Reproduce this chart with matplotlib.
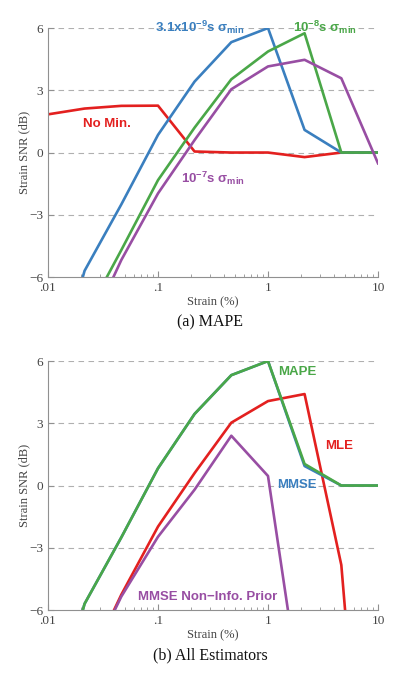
import numpy as np
import matplotlib.pyplot as plt
from matplotlib.ticker import FixedLocator, LogLocator, NullFormatter

strain = [0.01, 0.0215, 0.0464, 0.1, 0.215, 0.464, 1, 2.15, 4.64, 10]

# (a) MAPE
snrNoMin = [1.84, 2.12, 2.25, 2.26, 0.05, 0.0, 0.0, -0.22, 0.0, 0.0]
snr31e9 = [-12, -5.7, -2.5, 0.85, 3.42, 5.32, 6.0, 1.09, 0.0, 0.0]
snr1e8 = [-12, -8.0, -4.7, -1.33, 1.2, 3.53, 4.87, 5.75, 0.0, 0.0]
snr1e7 = [-12, -9.0, -5.18, -1.97, 0.6, 3.05, 4.15, 4.47, 3.58, -0.52]

# (b) All Estimators
snrMAPE = [-12, -5.7, -2.5, 0.83, 3.45, 5.32, 6.0, 1.04, 0.0, 0.0]
snrMMSE = [-12, -5.7, -2.5, 0.83, 3.45, 5.32, 6.0, 0.94, 0.0, 0.0]
snrMLE = [-12, -9.0, -5.26, -1.98, 0.6, 3.03, 4.07, 4.41, -3.83, -25]
snrNonInfo = [-12, -9.0, -5.35, -2.47, -0.2, 2.4, 0.46, -11.4, -20, -25]

red = "#e3201f"
green = "#4aa748"
blue = "#3a7fbf"
purple = "#984ea3"

plt.rcParams["font.family"] = ["Liberation Serif", "DejaVu Serif"]
plt.rcParams["mathtext.fontset"] = "custom"
plt.rcParams["mathtext.rm"] = "Liberation Sans:bold"
plt.rcParams["mathtext.it"] = "Liberation Sans:bold"
plt.rcParams["mathtext.bf"] = "Liberation Sans:bold"

fig = plt.figure(figsize=(4, 6.76), dpi=100)
axA = fig.add_axes([0.12, 0.5902, 0.825, 0.3683])
axB = fig.add_axes([0.12, 0.0976, 0.825, 0.3683])


def style(ax):
    ax.set_xscale("log")
    ax.set_xlim(0.01, 10)
    ax.set_ylim(-6, 6)
    ax.xaxis.set_major_locator(FixedLocator([0.01, 0.1, 1, 10]))
    ax.set_xticklabels([".01", ".1", "1", "10"])
    ax.xaxis.set_minor_locator(LogLocator(base=10, subs=np.arange(2, 10)))
    ax.xaxis.set_minor_formatter(NullFormatter())
    ax.set_yticks([-6, -3, 0, 3, 6])
    ax.set_yticklabels(["\u22126", "\u22123", "0", "3", "6"])
    for y in [-3, 0, 3, 6]:
        ax.axhline(y, color="#b0b0b0", linestyle=(0, (5, 4)), linewidth=0.8, zorder=0)
    for s in ["top", "right"]:
        ax.spines[s].set_visible(False)
    for s in ["left", "bottom"]:
        ax.spines[s].set_color("#909090")
        ax.spines[s].set_linewidth(0.8)
    ax.tick_params(which="both", direction="in", colors="#909090", labelcolor="#444444", labelsize=9.5)
    ax.tick_params(which="major", length=4)
    ax.tick_params(which="minor", length=2)
    ax.set_xlabel("Strain (%)", fontsize=9, color="#444444", labelpad=2)
    ax.set_ylabel("Strain SNR (dB)", fontsize=9, color="#444444", labelpad=-1)


lw = 1.9
style(axA)
axA.plot(strain, snrNoMin, color=red, lw=lw)
axA.plot(strain, snr31e9, color=blue, lw=lw)
axA.plot(strain, snr1e8, color=green, lw=lw)
axA.plot(strain, snr1e7, color=purple, lw=lw)

sans = {"family": ["Liberation Sans", "DejaVu Sans"], "weight": "bold", "size": 9.5}
axA.text(0.0208, 1.23, "No Min.", color=red, fontdict=sans, ha="left", va="baseline")
axA.text(0.094, 5.8, r"3.1x10$^{-9}$s $\sigma_{min}$", color=blue, fontdict=sans, ha="left", va="baseline")
axA.text(1.69, 5.8, r"10$^{-8}$s $\sigma_{min}$", color=green, fontdict=sans, ha="left", va="baseline")
axA.text(0.162, -1.47, r"10$^{-7}$s $\sigma_{min}$", color=purple, fontdict=sans, ha="left", va="baseline")

style(axB)
axB.plot(strain, snrMLE, color=red, lw=lw)
axB.plot(strain, snrNonInfo, color=purple, lw=lw)
axB.plot(strain, snrMMSE, color=blue, lw=lw)
axB.plot(strain, snrMAPE, color=green, lw=lw)

axB.text(1.23, 5.33, "MAPE", color=green, fontdict=sans, ha="left", va="baseline")
axB.text(3.3, 1.76, "MLE", color=red, fontdict=sans, ha="left", va="baseline")
axB.text(1.21, -0.12, "MMSE", color=blue, fontdict=sans, ha="left", va="baseline")
axB.text(0.0658, -5.52, "MMSE Non\u2212Info. Prior", color=purple, fontdict=sans, ha="left", va="baseline")

fig.text(0.525, 1 - 322 / 676, "(a) MAPE", ha="center", va="center", fontsize=11.5, color="#111111")
fig.text(0.525, 1 - 655 / 676, "(b) All Estimators", ha="center", va="center", fontsize=11.5, color="#111111")

fig.savefig("out.png", dpi=100)
